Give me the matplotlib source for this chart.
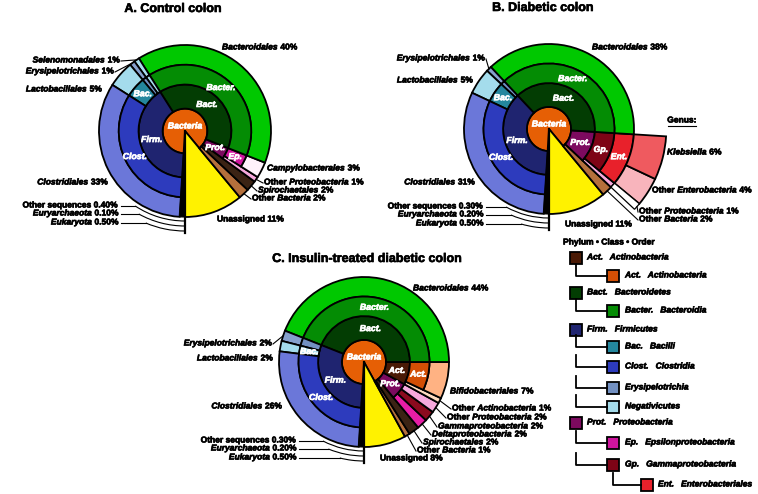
import matplotlib.pyplot as plt
from matplotlib.patches import Wedge, Rectangle, Arc
import matplotlib.patheffects as pe
import numpy as np

plt.rcParams['font.family'] = ['Liberation Sans', 'DejaVu Sans']

W, H = 758, 494

# ---- data: orders listed counter-clockwise from 6 o'clock ----
titles = ["A. Control colon", "B. Diabetic colon", "C. Insulin-treated diabetic colon"]

a_orders = ["Unassigned", "Other Bacteria", "Spirochaetales", "Other Proteobacteria",
            "Campylobacterales", "Bacteroidales", "Selenomonadales", "Erysipelotrichales",
            "Lactobacillales", "Clostridiales", "Other sequences", "Euryarchaeota", "Eukaryota"]
a_pct = [11, 2, 2, 1, 3, 40, 1, 1, 5, 33, 0.4, 0.1, 0.5]
a_phylum = [None, None, None, "Prot.", "Prot.", "Bact.", "Firm.", "Firm.", "Firm.", "Firm.",
            None, None, None]
a_class = [None, None, None, None, "Ep.", "Bacter.", "Negativicutes", "Erysipelotrichia",
           "Bac.", "Clost.", None, None, None]

b_orders = ["Unassigned", "Other Bacteria", "Other Proteobacteria", "Enterobacteriales",
            "Bacteroidales", "Erysipelotrichales", "Lactobacillales", "Clostridiales",
            "Other sequences", "Euryarchaeota", "Eukaryota"]
b_pct = [11, 2, 1, 10, 38, 1, 5, 31, 0.3, 0.2, 0.5]
b_phylum = [None, None, "Prot.", "Prot.", "Bact.", "Firm.", "Firm.", "Firm.", None, None, None]
b_class = [None, None, None, "Gp.", "Bacter.", "Erysipelotrichia", "Bac.", "Clost.",
           None, None, None]
b_genus = ["Other Enterobacteria", "Klebsiella"]
b_genus_pct = [4, 6]

c_orders = ["Unassigned", "Other Bacteria", "Spirochaetales", "Deltaproteobacteria",
            "Gammaproteobacteria", "Other Proteobacteria", "Other Actinobacteria",
            "Bifidobacteriales", "Bacteroidales", "Erysipelotrichales", "Lactobacillales",
            "Clostridiales", "Other sequences", "Euryarchaeota", "Eukaryota"]
c_pct = [8, 1, 2, 2, 2, 2, 1, 7, 44, 2, 2, 26, 0.3, 0.2, 0.5]
c_phylum = [None, None, None, "Prot.", "Prot.", "Prot.", "Act.", "Act.", "Bact.", "Firm.",
            "Firm.", "Firm.", None, None, None]
c_class = [None, None, None, None, None, None, None, "Act.", "Bacter.", "Erysipelotrichia",
           "Bac.", "Clost.", None, None, None]

NON_BACTERIA = ["Other sequences", "Euryarchaeota", "Eukaryota"]

legend_abbr = ["Act.", "Act.", "Bact.", "Bacter.", "Firm.", "Bac.", "Clost.", "", "",
               "Prot.", "Ep.", "Gp.", "Ent."]
legend_names = ["Actinobacteria", "Actinobacteria", "Bacteroidetes", "Bacteroidia",
                "Firmicutes", "Bacilli", "Clostridia", "Erysipelotrichia", "Negativicutes",
                "Proteobacteria", "Epsilonproteobacteria", "Gammaproteobacteria",
                "Enterobacteriales"]
legend_level = [0, 1, 0, 1, 0, 1, 1, 1, 1, 0, 1, 1, 2]

# ---- colours ----
BACTERIA_COLOR = "#e65f05"
phylum_colors = {"Act.": "#4a1a05", "Bact.": "#033d03", "Firm.": "#1f2470", "Prot.": "#7d0a5f"}
class_colors = {"Act.": "#d34f05", "Bacter.": "#048c04", "Bac.": "#24879e",
                "Clost.": "#2d3bbd", "Erysipelotrichia": "#7290c2",
                "Negativicutes": "#a4dbea", "Ep.": "#d0149e", "Gp.": "#7e0416"}
order_colors = {"Unassigned": "#fff200", "Other Bacteria": "#b5703c",
                "Spirochaetales": "#3b2314", "Other Proteobacteria": "#f7a8dc",
                "Campylobacterales": "#fff2fa", "Bacteroidales": "#00c800",
                "Selenomonadales": "#a8dcec", "Erysipelotrichales": "#86a0cc",
                "Lactobacillales": "#a4dcec", "Clostridiales": "#6b77d9",
                "Enterobacteriales": "#e8212b", "Bifidobacteriales": "#ffb283",
                "Other Actinobacteria": "#ffdcc0", "Deltaproteobacteria": "#e61ea5",
                "Gammaproteobacteria": "#8b0a1e"}
order_abbr = {"Enterobacteriales": "Ent."}
genus_colors = {"Klebsiella": "#ef5a5f", "Other Enterobacteria": "#f8b4bc"}

# ---- layout (pixel positions, y downwards) ----
lay_a = dict(center=(185, 131), R=86, title_xy=(173, 9), labels={
    "Bacteroidales": (222, 48, "left", False),
    "Selenomonadales": (120, 61, "right", True),
    "Erysipelotrichales": (114, 72, "right", True),
    "Lactobacillales": (102, 90, "right", False),
    "Clostridiales": (108, 183, "right", False),
    "Campylobacterales": (267, 169, "left", False),
    "Other Proteobacteria": (264, 183, "left", True),
    "Spirochaetales": (258, 191, "left", True),
    "Other Bacteria": (252, 199, "left", True),
    "Unassigned": (217, 220, "left", False),
    "Other sequences": (119, 206, "right", False),
    "Euryarchaeota": (119, 214, "right", False),
    "Eukaryota": (119, 223, "right", False)})
lay_b = dict(center=(549, 129), R=85, title_xy=(543, 8), callouts=["Other Proteobacteria"],
             labels={
    "Bacteroidales": (592, 48, "left", False),
    "Erysipelotrichales": (485, 59, "right", True),
    "Lactobacillales": (473, 81, "right", False),
    "Clostridiales": (475, 183, "right", False),
    "Unassigned": (565, 225, "left", False),
    "Other Proteobacteria": (639, 212, "left", True),
    "Other Bacteria": (639, 220, "left", True),
    "Klebsiella": (667, 153, "left", False),
    "Other Enterobacteria": (652, 191, "left", False),
    "Other sequences": (484, 207, "right", False),
    "Euryarchaeota": (484, 215, "right", False),
    "Eukaryota": (484, 224, "right", False)})
lay_c = dict(center=(364, 362), R=85, title_xy=(367, 259),
             class_override={"Bac.": "#9fd8ea"}, labels={
    "Bacteroidales": (413, 289, "left", False),
    "Erysipelotrichales": (272, 344, "right", True),
    "Lactobacillales": (273, 359, "right", False),
    "Clostridiales": (282, 407, "right", False),
    "Unassigned": (380, 459, "left", False),
    "Bifidobacteriales": (450, 392, "left", False),
    "Other Actinobacteria": (452, 409, "left", True),
    "Other Proteobacteria": (447, 418, "left", True),
    "Gammaproteobacteria": (438, 427, "left", True),
    "Deltaproteobacteria": (432, 435, "left", True),
    "Spirochaetales": (423, 443, "left", True),
    "Other Bacteria": (417, 451, "left", True),
    "Other sequences": (297, 441, "right", False),
    "Euryarchaeota": (297, 449, "right", False),
    "Eukaryota": (297, 458, "right", False)})

LW = 1.3
FS = 6.1


def heavy(color):
    return [pe.withStroke(linewidth=0.45, foreground=color)]


def rich_text(ax, x, y, markup, ha="left", size=FS, color="black"):
    # '*' toggles bold italic; everything is bold
    parts = markup.split("*")
    items = [(p, "normal" if k % 2 == 0 else "italic") for k, p in enumerate(parts) if p]
    if ha == "right":
        items = items[::-1]
    prev = None
    for txt, style in items:
        kw = dict(fontsize=size, fontweight="bold", fontstyle=style, color=color,
                  ha=ha, va="center", path_effects=heavy(color))
        if prev is None:
            prev = ax.text(x, H - y, txt, **kw)
        else:
            prev = ax.annotate(txt, xy=(1, 0.5) if ha == "left" else (0, 0.5),
                               xycoords=prev, **kw)


def label_markup(name, pct):
    p = "%.2f%%" % pct if pct < 1 else "%d%%" % pct
    if name in ("Unassigned", "Other sequences"):
        return name + " " + p
    if name.startswith("Other "):
        return "Other *" + name[6:] + "* " + p
    return "*" + name + "* " + p


def wedge(ax, c, r_in, r_out, a0, a1, color, lw=LW):
    ax.add_patch(Wedge(c, r_out, a0, a1, width=r_out - r_in, facecolor=color,
                       edgecolor="black", linewidth=lw))


def ring_text(ax, c, r, ang, txt):
    t = np.radians(ang)
    ax.text(c[0] + r * np.cos(t), c[1] + r * np.sin(t), txt, color="white",
            fontsize=FS + 0.2, fontweight="bold", fontstyle="italic",
            ha="center", va="center", path_effects=heavy("white"))


def runs(keys):
    out, i = [], 0
    while i < len(keys):
        j = i
        while j + 1 < len(keys) and keys[j + 1] == keys[i]:
            j += 1
        if keys[i] is not None:
            out.append((keys[i], i, j))
        i = j + 1
    return out


def draw_sunburst(ax, title, orders, pct, phylum, klass, lay, genus=None, genus_pct=None):
    cx, cy = lay["center"][0], H - lay["center"][1]
    c = (cx, cy)
    R = lay["R"]
    r0, r1, r2, r4 = 0.26 * R, 0.54 * R, 0.77 * R, 1.38 * R
    edges = -90 + 3.6 * np.concatenate([[0], np.cumsum(pct)])
    t0, t1 = edges[:-1], edges[1:]
    mid = (t0 + t1) / 2
    outer = {}
    ccols = dict(class_colors, **lay.get("class_override", {}))

    bact = [i for i, n in enumerate(orders) if n != "Unassigned" and n not in NON_BACTERIA]
    wedge(ax, c, 0, r0, t0[bact[0]], t1[bact[-1]], BACTERIA_COLOR)

    for i, name in enumerate(orders):
        outer[name] = (mid[i], R)
        if name == "Unassigned":
            wedge(ax, c, 0, R, t0[i], t1[i], order_colors[name])
        elif name in NON_BACTERIA:
            continue
        elif phylum[i] is None:
            wedge(ax, c, r0, R, t0[i], t1[i], order_colors[name])
        elif klass[i] is None:
            wedge(ax, c, r1, R, t0[i], t1[i], order_colors[name])
        else:
            wedge(ax, c, r2, R, t0[i], t1[i], order_colors[name])
            if name in order_abbr:
                ring_text(ax, c, (r2 + R) / 2, mid[i], order_abbr[name])

    for key, i, j in runs(phylum):
        wedge(ax, c, r0, r1, t0[i], t1[j], phylum_colors[key])
        ring_text(ax, c, (r0 + r1) / 2, (t0[i] + t1[j]) / 2, key)
    for key, i, j in runs(klass):
        wedge(ax, c, r1, r2, t0[i], t1[j], ccols[key])
        if key.endswith("."):
            ring_text(ax, c, (r1 + r2) / 2, (t0[i] + t1[j]) / 2, key)

    ax.text(cx, cy + 5, "Bacteria", color="white", fontsize=FS + 0.2,
            fontweight="bold", fontstyle="italic", ha="center", va="center",
            path_effects=heavy("white"))

    # genus ring
    if genus is not None:
        k = orders.index("Enterobacteriales")
        g_edges = t0[k] + 3.6 * np.concatenate([[0], np.cumsum(genus_pct)])
        for g, name in enumerate(genus):
            wedge(ax, c, R, r4, g_edges[g], g_edges[g + 1], genus_colors[name])
            outer[name] = ((g_edges[g] + g_edges[g + 1]) / 2, r4)
    for name in lay.get("callouts", []):
        k = orders.index(name)
        wedge(ax, c, R, r4, t0[k], t1[k], "white", lw=0.9)
        outer[name] = (mid[k], r4)

    # non-bacterial slivers drawn as nested leader bands at 6 o'clock
    others = [i for i, n in enumerate(orders) if n in NON_BACTERIA]
    wedge(ax, c, r0, R, t0[others[0]], t1[others[-1]], "black", lw=0.8)
    for k, i in enumerate(others):
        rk = R + 4 + 5 * k
        x, y, ha, _ = lay["labels"][orders[i]]
        dy = (H - y) - cy
        dx = np.sqrt(max(rk ** 2 - dy ** 2, 0))
        ang = np.degrees(np.arctan2(dy, -dx))
        ax.plot([x + 2, cx - dx], [H - y, H - y], color="black", lw=0.8)
        ax.add_patch(Arc(c, 2 * rk, 2 * rk, theta1=ang % 360, theta2=270,
                         color="black", lw=0.8))
    ax.plot([cx, cx], [cy, cy - (R + 16)], color="black", lw=1.6)

    # outer labels
    for name, (x, y, ha, leader) in lay["labels"].items():
        if name in orders:
            val = pct[orders.index(name)]
        else:
            val = genus_pct[genus.index(name)]
        rich_text(ax, x, y, label_markup(name, val), ha=ha)
        if leader:
            a, r = outer[name]
            a = np.radians(a)
            sx = x - 1 if ha == "left" else x + 1
            ax.plot([sx, cx + r * np.cos(a)], [H - y, cy + r * np.sin(a)],
                    color="black", lw=0.8)

    tx, ty = lay["title_xy"]
    ax.text(tx, H - ty, title, fontsize=9, fontweight="bold", ha="center", va="center",
            path_effects=heavy("black"))


fig = plt.figure(figsize=(W / 100, H / 100), dpi=100)
ax = fig.add_axes([0, 0, 1, 1])
ax.set_xlim(0, W)
ax.set_ylim(0, H)
ax.axis("off")

draw_sunburst(ax, titles[0], a_orders, a_pct, a_phylum, a_class, lay_a)
draw_sunburst(ax, titles[1], b_orders, b_pct, b_phylum, b_class, lay_b, b_genus, b_genus_pct)
draw_sunburst(ax, titles[2], c_orders, c_pct, c_phylum, c_class, lay_c)

# "Genus:" header for the extra ring in B
ax.text(682, H - 121, "Genus:", fontsize=FS, fontweight="bold", ha="center", va="center",
        path_effects=heavy("black"))
ax.plot([668, 696], [H - 126, H - 126], color="black", lw=0.8)

# ---- legend ----
leg_y = [258, 276, 293, 311, 330, 347, 367, 388, 407, 423, 443, 465, 485]
sq_x = [570, 607, 641]
txt_x = [587, 625, 658]
conn_x = [None, 576, 613]
sq = 12
ax.text(563, H - 243, "Phylum \u2022 Class \u2022 Order", fontsize=FS, fontweight="bold",
        ha="left", va="center", path_effects=heavy("black"))
for abbr, name, lev, y in zip(legend_abbr, legend_names, legend_level, leg_y):
    if lev == 0:
        col = phylum_colors[abbr]
    elif lev == 1:
        col = class_colors[abbr if abbr else name]
    else:
        col = order_colors[name]
    ax.add_patch(Rectangle((sq_x[lev], H - y - sq / 2), sq, sq, facecolor=col,
                           edgecolor="black", linewidth=LW))
    txt = "*" + (abbr + "   " if abbr else "") + name + "*"
    rich_text(ax, txt_x[lev], y, txt)
    if lev > 0:
        xc = conn_x[lev]
        ax.plot([xc, xc, sq_x[lev]], [H - y + 12, H - y, H - y], color="black", lw=1.3)

fig.savefig("out.png", dpi=100)
